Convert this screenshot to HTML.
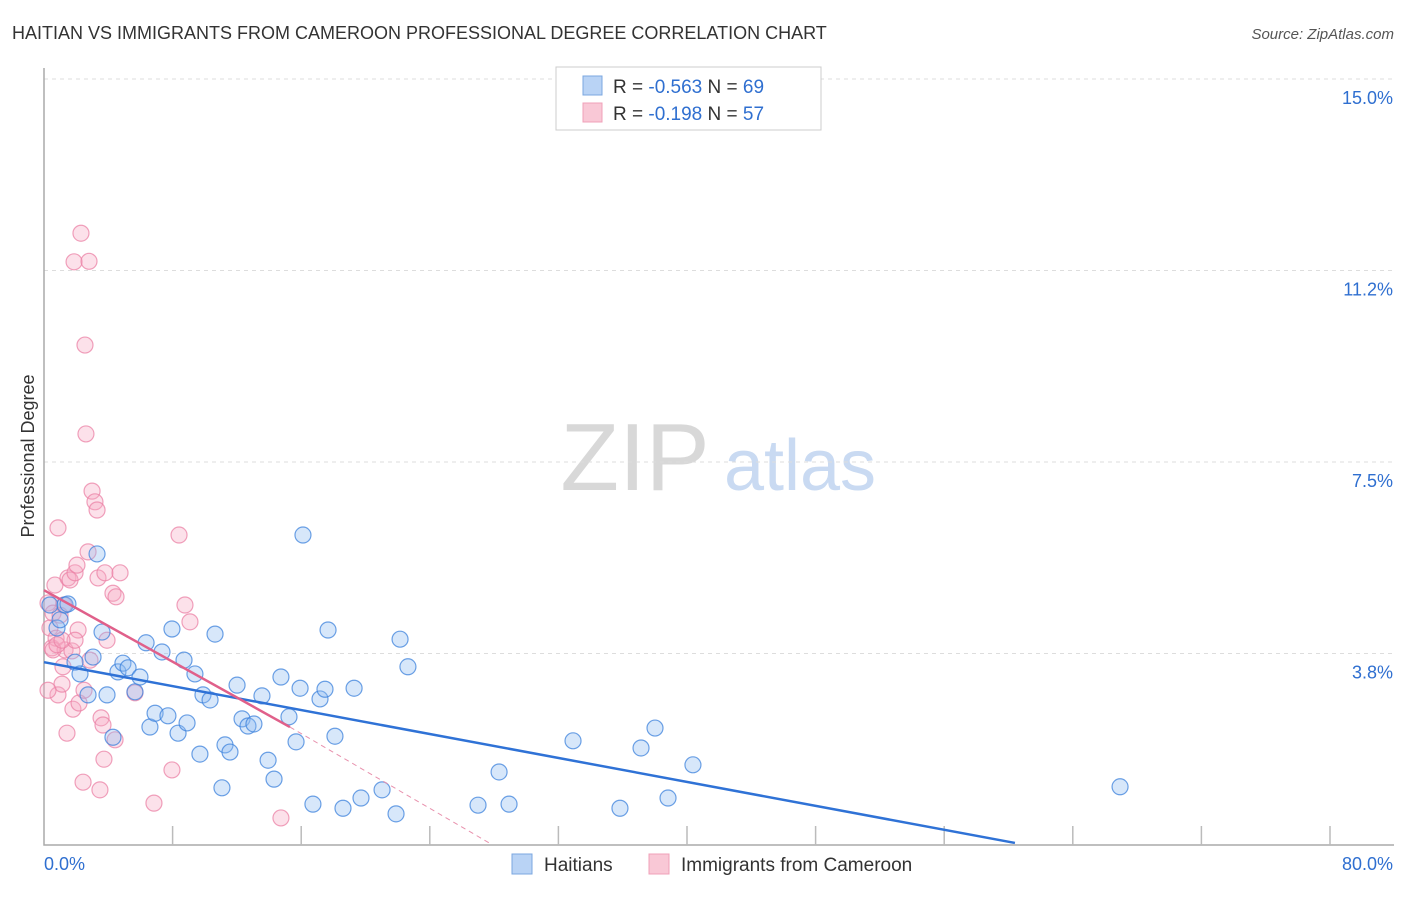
<!DOCTYPE html>
<html><head><meta charset="utf-8"><style>
body{margin:0;background:#fff;font-family:"Liberation Sans",sans-serif;}
svg text{font-family:"Liberation Sans",sans-serif;}
</style></head><body>
<svg id="chart" width="1406" height="892" xmlns="http://www.w3.org/2000/svg">
<text x="12" y="39" font-size="18" fill="#333">HAITIAN VS IMMIGRANTS FROM CAMEROON PROFESSIONAL DEGREE CORRELATION CHART</text>
<text x="1394" y="39" font-size="15" fill="#555" text-anchor="end" font-style="italic">Source: ZipAtlas.com</text>
<text transform="translate(34,456) rotate(-90)" font-size="18" fill="#333" text-anchor="middle">Professional Degree</text>
<g>
<text x="635" y="490" font-size="96" fill="#d8d8d8" font-family="Liberation Serif,serif" text-anchor="middle">ZIP</text>
<text x="800" y="490" font-size="72" fill="#c9daf2" text-anchor="middle">atlas</text>
</g>
<g id="grid"></g><g id="axes"></g><g id="pts"></g><g id="lines"></g>
<g>
<rect x="556" y="67" width="265" height="63" fill="#fff" stroke="#ccc"/>
<rect x="583" y="76" width="19" height="19" fill="#b9d3f5" stroke="#7ba7e0"/>
<rect x="583" y="103" width="19" height="19" fill="#f9c8d6" stroke="#f0a0b8"/>
<text x="613" y="93" font-size="19" fill="#333">R = <tspan fill="#2f6fd0">-0.563</tspan>   N = <tspan fill="#2f6fd0">69</tspan></text>
<text x="613" y="120" font-size="19" fill="#333">R =  <tspan fill="#2f6fd0">-0.198</tspan>   N = <tspan fill="#2f6fd0">57</tspan></text>
</g>
<g>
<rect x="512" y="854" width="20" height="20" fill="#b9d3f5" stroke="#7ba7e0"/>
<text x="544" y="871" font-size="19" fill="#333">Haitians</text>
<rect x="649" y="854" width="20" height="20" fill="#f9c8d6" stroke="#f0a0b8"/>
<text x="681" y="871" font-size="19" fill="#333">Immigrants from Cameroon</text>
</g>
</svg>
<script>
const yTicks=[3.75,7.5,11.25,15];
const yTickLabels=["3.8%","7.5%","11.2%","15.0%"];
const xTickCount=10;
const blueX=[0.37,0.81,1.00,1.31,1.49,1.93,2.24,2.74,3.05,3.30,3.61,3.92,4.29,4.60,4.91,5.23,5.66,5.97,6.35,6.59,6.91,7.34,7.71,7.96,8.34,8.71,8.90,9.39,9.70,9.89,10.33,10.64,11.07,11.26,11.57,12.01,12.32,12.69,13.06,13.56,13.94,14.31,14.74,15.24,15.68,15.93,16.11,16.73,17.17,17.48,17.67,18.10,18.60,19.29,19.72,21.03,21.90,22.15,22.64,27.00,28.31,28.93,32.91,35.83,37.14,38.01,38.82,40.37,66.94];
const blueY=[4.70,4.25,4.41,4.70,4.72,3.58,3.35,2.94,3.68,5.70,4.17,2.94,2.11,3.39,3.56,3.47,3.00,3.29,3.96,2.31,2.58,3.78,2.53,4.23,2.19,3.62,2.39,3.35,1.78,2.94,2.84,4.13,1.12,1.96,1.82,3.13,2.47,2.33,2.37,2.92,1.66,1.29,3.29,2.51,2.02,3.07,6.07,0.80,2.86,3.05,4.21,2.13,0.72,3.07,0.92,1.08,0.61,4.03,3.49,0.78,1.43,0.80,2.04,0.72,1.90,2.29,0.92,1.57,1.14];
const pinkX=[0.25,0.37,0.50,0.56,0.68,0.75,0.87,0.87,1.00,1.12,1.18,1.31,1.43,1.49,1.62,1.74,1.80,1.87,1.93,2.05,2.12,2.18,2.30,2.43,2.49,2.55,2.61,2.74,2.80,2.99,3.17,3.30,3.36,3.48,3.55,3.67,3.73,3.79,3.92,4.29,4.42,4.48,4.73,5.66,6.84,7.96,8.40,8.77,9.08,14.74,0.25,0.56,1.93,1.24,0.81,2.86,1.12];
const pinkY=[4.74,4.25,3.86,4.54,5.09,4.05,6.21,2.94,4.50,3.15,3.49,3.82,2.19,5.23,5.19,3.80,2.66,11.42,5.33,5.48,4.21,2.78,11.98,1.23,3.03,9.79,8.05,5.74,11.43,6.93,6.72,6.56,5.23,1.08,2.49,2.35,1.68,5.33,4.01,4.93,2.06,4.86,5.33,2.98,0.82,1.47,6.07,4.70,4.37,0.53,3.03,3.82,4.01,4.70,3.92,3.62,4.01];
const blueTrend=[0,3.58,60.4,0.04];
const pinkTrend=[0,4.99,15.3,2.31,27.7,0.04];
const X0=44,X1=1330,Y0=845,YTOP=79;
const sx=v=>X0+(v/80)*(X1-X0);
const sy=v=>Y0-(v/15)*(Y0-YTOP);
const NS="http://www.w3.org/2000/svg";
function mk(p,t,a){const e=document.createElementNS(NS,t);for(const k in a)e.setAttribute(k,a[k]);p.appendChild(e);return e;}
const grid=document.getElementById('grid'),axes=document.getElementById('axes'),pts=document.getElementById('pts'),lines=document.getElementById('lines');
yTicks.forEach((t,i)=>{
 const l=mk(grid,'line',{x1:X0,x2:1394,y1:sy(t),y2:sy(t),stroke:'#ddd','stroke-dasharray':'4,4'});
 
 
 const tx=mk(grid,'text',{x:1393,y:sy(t)+25,'font-size':18,fill:'#2f6fd0','text-anchor':'end'});
 tx.textContent=yTickLabels[i];
 
 
});
const ax=mk(axes,'path',{d:`M${X0},68V${Y0}H1394`,stroke:'#aaa',fill:'none','stroke-width':1.5});


for(let i=1;i<=xTickCount;i++){
 const x=sx(i*8);
 const t=mk(axes,'line',{x1:x,x2:x,y1:826,y2:Y0,stroke:'#bbb','stroke-width':1.5});
 
 
}
const xl0=mk(axes,'text',{x:44,y:870,'font-size':18,fill:'#2f6fd0'});xl0.textContent='0.0%';


const xl1=mk(axes,'text',{x:1393,y:870,'font-size':18,fill:'#2f6fd0','text-anchor':'end'});xl1.textContent='80.0%';


function drawPts(xs,ys,fill,stroke,name){xs.forEach((v,i)=>{
 const c=mk(pts,'circle',{cx:sx(v),cy:sy(ys[i]),r:8,fill:fill,stroke:stroke,'stroke-width':1.2});
 
 
});}
drawPts(pinkX,pinkY,'rgba(246,170,195,0.35)','rgba(235,130,165,0.75)','cameroon-point');
drawPts(blueX,blueY,'rgba(140,185,240,0.35)','rgba(60,130,220,0.75)','haitian-point');
const bl=mk(lines,'line',{x1:sx(blueTrend[0]),y1:sy(blueTrend[1]),x2:sx(blueTrend[2]),y2:sy(blueTrend[3]),stroke:'#2f72d6','stroke-width':2.5});


const pl=mk(lines,'line',{x1:sx(pinkTrend[0]),y1:sy(pinkTrend[1]),x2:sx(pinkTrend[2]),y2:sy(pinkTrend[3]),stroke:'#e0608a','stroke-width':2.5});


const pd=mk(lines,'line',{x1:sx(pinkTrend[2]),y1:sy(pinkTrend[3]),x2:sx(pinkTrend[4]),y2:sy(pinkTrend[5]),stroke:'#e891ad','stroke-width':1,'stroke-dasharray':'5,4'});


</script>
</body></html>
